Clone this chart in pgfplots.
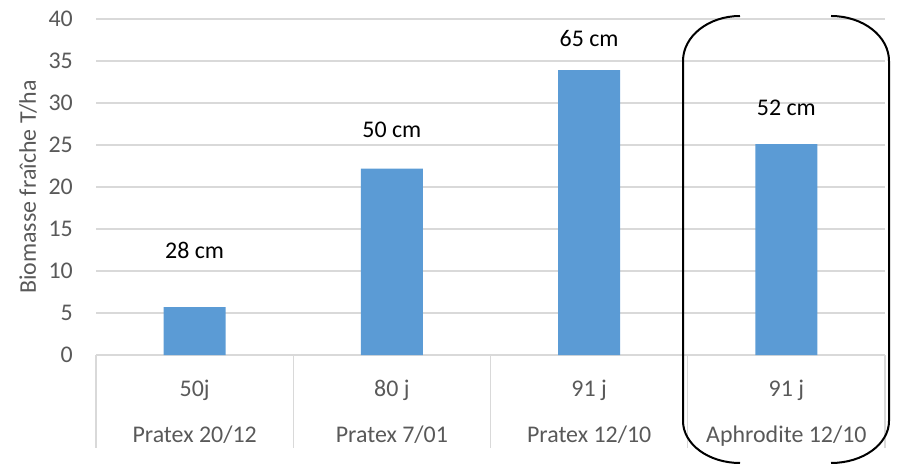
\documentclass[border=0pt]{standalone}
\usepackage{fontspec}
\setmainfont{Carlito}
\usepackage{pgfplots}
\pgfplotsset{compat=1.18}

\definecolor{barblue}{HTML}{5B9BD5}
\definecolor{gridgrey}{HTML}{D9D9D9}
\definecolor{textgrey}{HTML}{595959}

\begin{document}
\begin{tikzpicture}
\useasboundingbox (0bp,0bp) rectangle (901bp,465bp);
\begin{axis}[
  at={(96bp,110bp)}, anchor=south west,
  scale only axis, width=789bp, height=336bp,
  xmin=-0.5, xmax=3.5, ymin=0, ymax=40,
  ytick={0,5,...,40},
  xtick={0,1,2,3},
  xticklabels={50j, 80 j, 91 j, 91 j},
  extra x ticks={0,1,2,3},
  extra x tick labels={Pratex 20/12, Pratex 7/01, Pratex 12/10, Aphrodite 12/10},
  extra x tick style={major tick length=0pt, xticklabel style={yshift=-46bp}},
  major tick length=0pt,
  axis line style={draw=none},
  ymajorgrids,
  grid style={draw=gridgrey, line width=1.2bp},
  /pgf/number format/assume math mode=true,
  tick label style={font=\fontsize{24}{28}\selectfont, text=textgrey},
  xticklabel style={anchor=base, inner sep=0pt, yshift=-41bp},
  yticklabel style={anchor=east, inner sep=0pt, xshift=-23bp},
  ylabel={Biomasse fraîche T/ha},
  ylabel style={at={(axis description cs:-0.0862,0.5)}, anchor=center,
    font=\fontsize{24}{28}\selectfont, text=textgrey},
  clip=false,
]
\addplot[ybar, bar width=62bp, fill=barblue, draw=none]
  coordinates {(0,5.7) (1,22.2) (2,33.9) (3,25.1)};

% plant heights written above the bars
\begin{scope}[font=\fontsize{24}{28}\selectfont]
\node at (axis cs:0,12.5) {28 cm};
\node at (axis cs:1,26.8) {50 cm};
\node at (axis cs:2,37.7) {65 cm};
\node at (axis cs:3,29.4) {52 cm};
\end{scope}

% separators of the category table
\pgfplotsinvokeforeach{-0.5,0.5,1.5,2.5,3.5}{
  \draw[gridgrey, line width=1.2bp] (axis cs:#1,0) -- ++(0bp,-93bp);
}
\end{axis}

% brackets around the Aphrodite group
\draw[black, line width=2bp]
  (740bp,449bp) arc[start angle=90, end angle=180, x radius=57bp, y radius=45bp]
  -- (683bp,44bp) arc[start angle=180, end angle=270, x radius=57bp, y radius=42bp];
\draw[black, line width=2bp]
  (831bp,449bp) arc[start angle=90, end angle=0, x radius=58bp, y radius=45bp]
  -- (889bp,44bp) arc[start angle=0, end angle=-90, x radius=58bp, y radius=42bp];
\end{tikzpicture}
\end{document}
